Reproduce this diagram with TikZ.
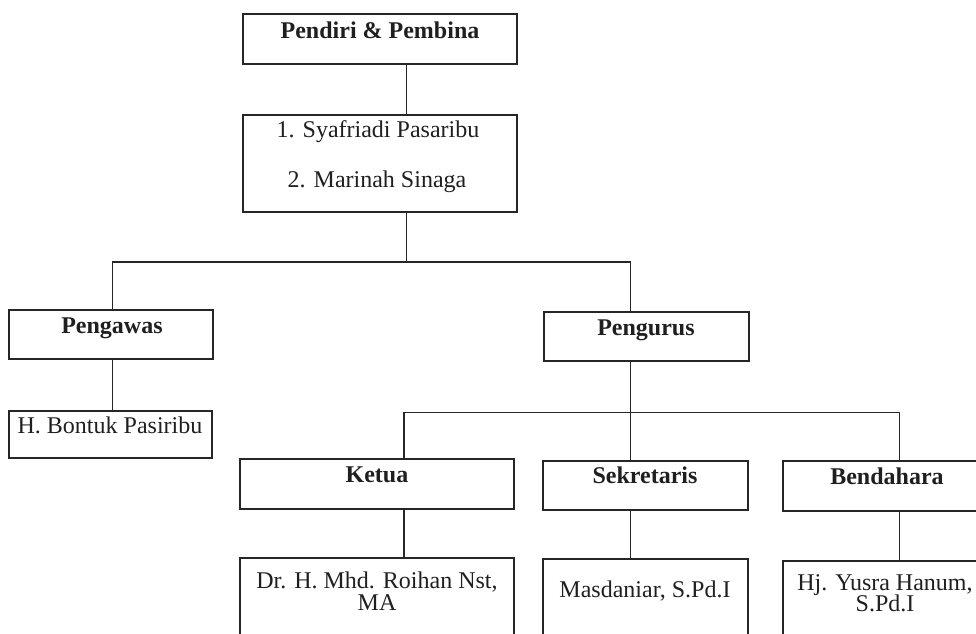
\documentclass[tikz,border=0pt]{standalone}
\usepackage{fontspec}
\setmainfont{Liberation Serif}
\begin{document}
\begin{tikzpicture}[x=0.5pt,y=-0.5pt,
  box/.style={draw=black!85,line width=0.6pt,inner sep=0pt,fill=none},
  lab/.style={anchor=base,inner sep=0pt,text=black!88,font=\fontsize{12}{14}\selectfont},
  blab/.style={lab,font=\fontsize{12}{14}\selectfont\bfseries},
  link/.style={draw=black!85,line width=0.6pt}]
\useasboundingbox (0,0) rectangle (976,633);
\clip (0,0) rectangle (976,633);
% boxes
\node[box,minimum width=137pt,minimum height=25pt] (pendiri) at (380,39) {};
\node[box,minimum width=137pt,minimum height=48.5pt] (syaf) at (380,163.5) {};
\node[box,minimum width=102pt,minimum height=24.5pt] (pengawas) at (111,334.5) {};
\node[box,minimum width=102.5pt,minimum height=24.5pt] (pengurus) at (646.5,336.5) {};
\node[box,minimum width=101.5pt,minimum height=23.5pt] (bontuk) at (110.5,434.5) {};
\node[box,minimum width=137pt,minimum height=25pt] (ketua) at (377,484) {};
\node[box,minimum width=102.5pt,minimum height=24.5pt] (sekr) at (645.5,485.5) {};
\node[box,minimum width=104pt,minimum height=25pt] (bend) at (887,486) {};
\node[box,minimum width=137pt,minimum height=46pt] (dr) at (377,604) {};
\node[box,minimum width=102.5pt,minimum height=45.5pt] (masd) at (645.5,604.5) {};
\node[box,minimum width=104pt,minimum height=44.5pt] (hj) at (887,605.5) {};
% texts
\node[blab] (tpendiri) at (380,38.5) {Pendiri \& Pembina};
\node[lab] (tsyaf1) at (378,137.5) {1. Syafriadi Pasaribu};
\node[lab] (tsyaf2) at (377,187.5) {2. Marinah Sinaga};
\node[blab] (tpengawas) at (112,333.5) {Pengawas};
\node[blab] (tpengurus) at (646,335) {Pengurus};
\node[lab] (tbontuk) at (110,433.5) {H. Bontuk Pasiribu};
\node[blab] (tketua) at (377,482.5) {Ketua};
\node[blab] (tsekr) at (645,483.5) {Sekretaris};
\node[blab] (tbend) at (887,484) {Bendahara};
\node[lab] (tdr1) at (377,588.5) {Dr. H. Mhd. Roihan Nst,};
\node[lab] (tdr2) at (377,610) {MA};
\node[lab] (tmasd) at (645,597) {Masdaniar, S.Pd.I};
\node[lab] (thj1) at (885,590) {Hj. Yusra Hanum,};
\node[lab] (thj2) at (885,611) {S.Pd.I};
% guide coordinates
\coordinate (xa) at (406.5,0);
\coordinate (xb) at (112.5,0);
\coordinate (xc) at (630.5,0);
\coordinate (xd) at (404,0);
\coordinate (xe) at (899.5,0);
\coordinate (b1) at (0,262);
\coordinate (b2) at (0,412.5);
% connectors
\draw[link] (pendiri.south -| xa) -- (syaf.north -| xa);
\draw[link] (syaf.south -| xa) -- (b1 -| xa);
\draw[link] (pengawas.north -| xb) |- (b1 -| xc) -- (pengurus.north -| xc);
\draw[link] (pengawas.south -| xb) -- (bontuk.north -| xb);
\draw[link] (pengurus.south -| xc) -- (sekr.north -| xc);
\draw[link] (ketua.north -| xd) |- (b2 -| xe) -- (bend.north -| xe);
\draw[link] (ketua.south -| xd) -- (dr.north -| xd);
\draw[link] (sekr.south -| xc) -- (masd.north -| xc);
\draw[link] (bend.south -| xe) -- (hj.north -| xe);
\end{tikzpicture}
\end{document}
